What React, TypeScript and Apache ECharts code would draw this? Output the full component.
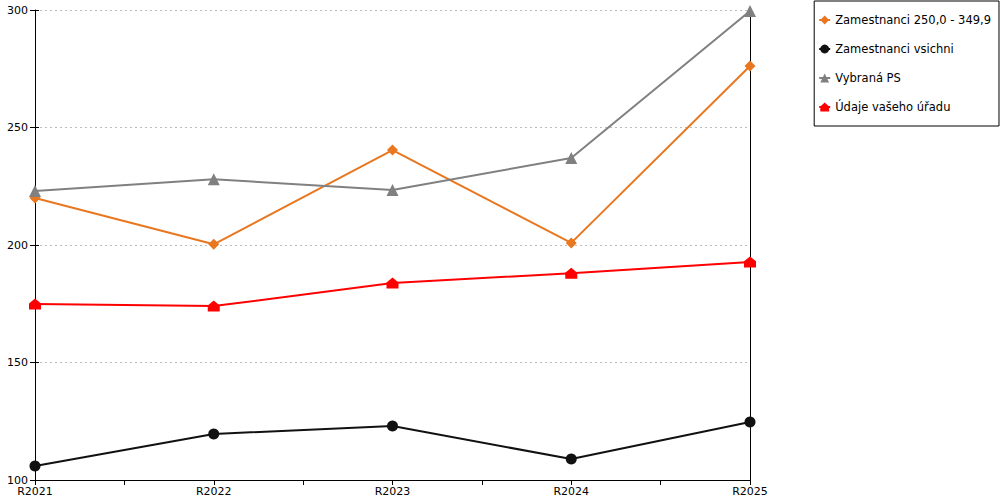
import React, { useEffect, useRef } from "react";
import * as echarts from "echarts";

const categories = ["R2021", "R2022", "R2023", "R2024", "R2025"];
const seriesNames = [
  "Zamestnanci 250,0 - 349,9",
  "Zamestnanci vsichni",
  "Vybraná PS",
  "Údaje vašeho úřadu",
];
const orangeValues = [220, 200.3, 240.4, 200.9, 276.2];
const blackValues = [106, 119.6, 123, 108.9, 124.7];
const grayValues = [223, 228, 223.4, 237, 299.6];
const redValues = [174.9, 174, 183.8, 188, 192.8];
const yTicks = { min: 100, max: 300, interval: 50 };

const FONT = "DejaVu Sans";
const HOUSE = "path://M5,0 L10,4.5 L10,10 L0,10 L0,4.5 Z";

const toPts = (vals: number[]) => vals.map((v, i) => [i, v]);

export default function App() {
  const ref = useRef<HTMLDivElement>(null);
  useEffect(() => {
    document.body.style.margin = "0";
    const chart = echarts.init(ref.current!, null, { renderer: "svg" });
    const mk = (
      name: string,
      vals: number[],
      color: string,
      symbol: string,
      size: number | number[]
    ) => ({
      name,
      type: "line",
      data: toPts(vals),
      symbol,
      symbolSize: size,
      showSymbol: true,
      itemStyle: { color },
      lineStyle: { color, width: 2 },
      emphasis: { disabled: true },
    });
    chart.setOption({
      animation: false,
      textStyle: { fontFamily: FONT },
      grid: { left: 35, right: 250, top: 10, bottom: 20 },
      legend: {
        orient: "vertical",
        right: 1,
        top: 1,
        borderColor: "#000",
        borderWidth: 1,
        padding: [13, 8, 13, 4],
        itemGap: 17,
        itemWidth: 11,
        itemHeight: 11,
        textStyle: { fontFamily: FONT, fontSize: 11.5, color: "#000" },
        data: seriesNames,
      },
      xAxis: {
        type: "value",
        min: 0,
        max: 4,
        interval: 0.5,
        axisLine: { show: true, lineStyle: { color: "#000", width: 1 } },
        axisTick: { show: true, length: 5, lineStyle: { color: "#000" } },
        splitLine: { show: false },
        axisLabel: {
          color: "#000",
          fontFamily: FONT,
          fontSize: 11,
          margin: 6,
          showMinLabel: true,
          showMaxLabel: true,
          formatter: (v: number) =>
            Number.isInteger(v) ? categories[v] : "",
        },
      },
      yAxis: [
        {
          type: "value",
          position: "left",
          min: yTicks.min,
          max: yTicks.max,
          interval: yTicks.interval,
          axisLine: { show: true, lineStyle: { color: "#000", width: 1 } },
          axisTick: { show: true, length: 5, lineStyle: { color: "#000" } },
          axisLabel: {
            color: "#000",
            fontFamily: FONT,
            fontSize: 11,
            margin: 7,
          },
          splitLine: {
            show: true,
            lineStyle: { color: "#bbb", type: [2, 3], width: 1 },
          },
        },
        {
          type: "value",
          position: "left",
          min: yTicks.min,
          max: yTicks.max,
          interval: yTicks.interval,
          axisLine: { show: false },
          axisTick: {
            show: true,
            inside: true,
            length: 4,
            lineStyle: { color: "#000" },
          },
          axisLabel: { show: false },
          splitLine: { show: false },
        },
        {
          type: "value",
          position: "right",
          min: yTicks.min,
          max: yTicks.max,
          interval: yTicks.interval,
          axisLine: { show: true, lineStyle: { color: "#000", width: 1 } },
          axisTick: { show: false },
          axisLabel: { show: false },
          splitLine: { show: false },
        },
      ],
      series: [
        mk(seriesNames[0], orangeValues, "#E8771F", "diamond", 11),
        mk(seriesNames[1], blackValues, "#111111", "circle", 11),
        mk(seriesNames[2], grayValues, "#808080", "triangle", 12),
        mk(seriesNames[3], redValues, "#FF0000", HOUSE, [12, 11]),
      ],
    });
    return () => chart.dispose();
  }, []);
  return <div ref={ref} style={{ width: 1000, height: 500 }} />;
}
